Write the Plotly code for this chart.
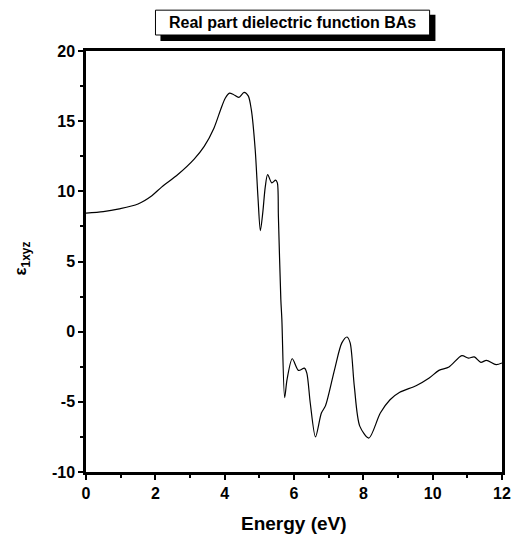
import plotly.graph_objects as go

energy = [0, 0.5, 0.96, 1.5, 1.9, 2.18, 2.65, 3.12, 3.41, 3.69, 3.88, 4.02, 4.14, 4.25,
          4.41, 4.56, 4.68, 4.77, 4.88, 4.96, 5.03, 5.1, 5.17, 5.24, 5.36, 5.47, 5.52,
          5.55, 5.62, 5.65, 5.73, 5.8, 5.95, 6.13, 6.3, 6.37, 6.47, 6.62, 6.79, 6.91,
          7.17, 7.38, 7.53, 7.62, 7.74, 7.9, 8.16, 8.49, 8.77, 9.05, 9.52, 9.9, 10.18,
          10.47, 10.84, 11.03, 11.2, 11.39, 11.55, 11.83, 12.0]
eps1 = [8.45, 8.55, 8.75, 9.1, 9.69, 10.3, 11.2, 12.3, 13.2, 14.5, 15.8, 16.65, 17.0, 16.9,
        16.7, 17.05, 16.8, 15.8, 13.0, 9.6, 7.2, 8.5, 10.3, 11.2, 10.6, 10.8, 10.6,
        8.2, 2.3, 0.86, -4.7, -3.4, -1.93, -2.76, -2.6, -2.95, -5.1, -7.5, -5.8, -5.27,
        -2.7, -0.8, -0.38, -0.8, -3.9, -6.75, -7.58, -5.8, -4.85, -4.32, -3.85, -3.3, -2.76,
        -2.52, -1.71, -1.88, -1.8, -2.19, -2.04, -2.35, -2.23]

x_ticks = [0, 2, 4, 6, 8, 10, 12]
y_ticks = [-10, -5, 0, 5, 10, 15, 20]

title_text = "Real part dielectric function BAs"
x_title = "Energy (eV)"
y_title = "ε<sub>1xyz</sub>"

FONT = "Arial, Liberation Sans, sans-serif"

fig = go.Figure()
fig.add_trace(go.Scatter(x=energy, y=eps1, mode="lines",
                         line=dict(color="black", width=1.2, shape="spline", smoothing=0.8),
                         showlegend=False, hoverinfo="skip"))

axis_common = dict(showgrid=False, zeroline=False, showline=True, linecolor="black",
                   linewidth=2.5, mirror=True, ticks="outside", ticklen=5, tickwidth=2,
                   tickcolor="black",
                   tickfont=dict(family=FONT, size=16, color="black", weight="bold"))

fig.update_xaxes(range=[0, 12], tickvals=x_ticks, ticktext=[str(v) for v in x_ticks],
                 minor=dict(dtick=1, ticks="outside", ticklen=3, tickwidth=2, tickcolor="black", showgrid=False),
                 **axis_common)
fig.update_yaxes(range=[-10, 20], tickvals=y_ticks, ticktext=[str(v) for v in y_ticks],
                 minor=dict(dtick=2.5, ticks="outside", ticklen=3, tickwidth=2, tickcolor="black", showgrid=False),
                 **axis_common)

fig.update_layout(
    width=522, height=535,
    margin=dict(l=86, r=11, t=51, b=63),
    paper_bgcolor="white", plot_bgcolor="white",
    shapes=[
        dict(type="rect", xref="paper", yref="paper", x0=0.179, x1=0.840, y0=1.024, y1=1.086,
             fillcolor="black", line=dict(width=0), layer="above"),
        dict(type="rect", xref="paper", yref="paper", x0=0.167, x1=0.826, y0=1.038, y1=1.097,
             fillcolor="white", line=dict(color="black", width=1), layer="above"),
    ],
    annotations=[
        dict(text="<b>" + title_text + "</b>", xref="paper", yref="paper", x=0.496, y=1.068,
             xanchor="center", yanchor="middle", showarrow=False,
             font=dict(family=FONT, size=16, color="black")),
        dict(text="<b>" + x_title + "</b>", xref="paper", yref="paper", x=0.5, y=-0.122,
             xanchor="center", yanchor="middle", showarrow=False,
             font=dict(family=FONT, size=19, color="black")),
        dict(text="<b>" + y_title + "</b>", xref="paper", yref="paper", x=-0.153, y=0.508,
             xanchor="center", yanchor="middle", showarrow=False, textangle=-90,
             font=dict(family=FONT, size=17, color="black")),
    ],
)

fig.write_html("out.html")
